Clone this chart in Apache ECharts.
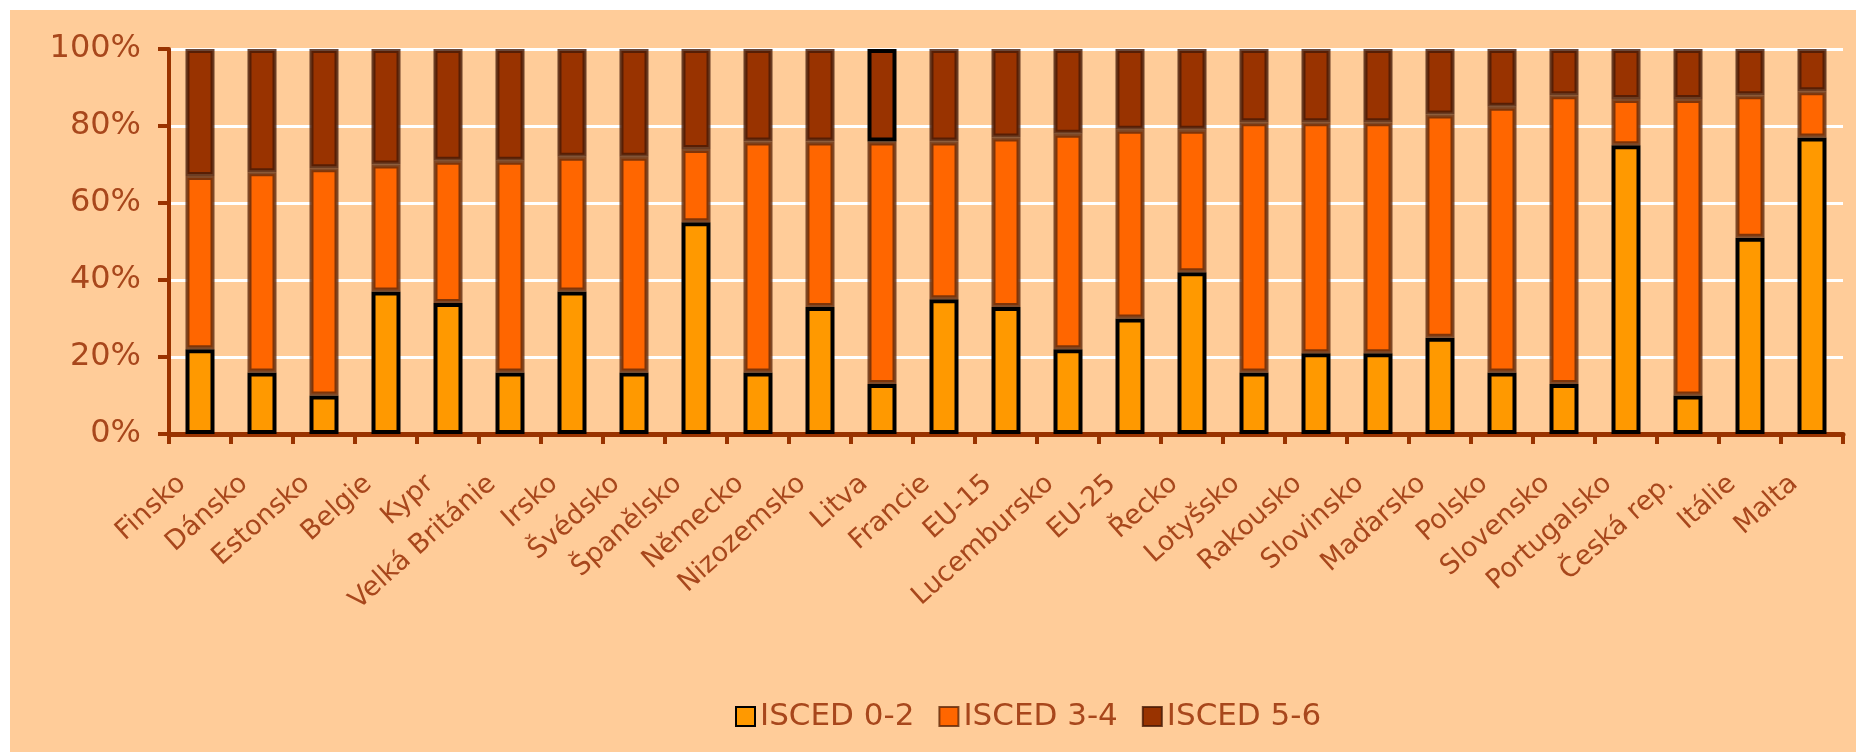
<!DOCTYPE html>
<html><head><meta charset="utf-8">
<script src="https://cdn.jsdelivr.net/npm/echarts@6/dist/echarts.min.js"></script>
<style>
html,body{margin:0;padding:0;background:#ffffff;width:1856px;height:752px;overflow:hidden}
#c{position:absolute;left:10px;top:10px;width:1846px;height:742px;}
</style>
</head><body><div id="c"></div>
<script>
const categories = ['Finsko','Dánsko','Estonsko','Belgie','Kypr','Velká Británie','Irsko','Švédsko','Španělsko','Německo','Nizozemsko','Litva','Francie','EU-15','Lucembursko','EU-25','Řecko','Lotyšsko','Rakousko','Slovinsko','Maďarsko','Polsko','Slovensko','Portugalsko','Česká rep.','Itálie','Malta'];
const isced02 = [22,16,10,37,34,16,37,16,55,16,33,13,35,33,22,30,42,16,21,21,25,16,13,75,10,51,77];
const isced34 = [45,52,59,33,37,55,35,56,19,60,43,63,41,44,56,49,37,65,60,60,58,69,75,12,77,37,12];
const isced56 = [33,32,31,30,29,29,28,28,26,24,24,24,24,23,22,21,21,19,19,19,17,15,12,13,13,12,11];
const legendNames = ['ISCED 0-2','ISCED 3-4','ISCED 5-6'];
const highlightCategory = 'Litva';

const txt = '#A8471C';
const font = "'DejaVu Sans', Verdana, sans-serif";
const chart = echarts.init(document.getElementById('c'));
chart.setOption({
  backgroundColor: '#FFCC99',
  animation: false,
  grid: {left: 159, right: 13, top: 39, bottom: 318, containLabel: false},
  legend: {
    data: legendNames, left: 720, top: 686, icon: 'rect',
    itemWidth: 19, itemHeight: 19, itemGap: 24,
    textStyle: {color: txt, fontSize: 31, fontFamily: font}
  },
  xAxis: {
    type: 'category', data: categories,
    axisLine: {lineStyle: {color: '#993300', width: 5}},
    axisTick: {show: true, length: 10, lineStyle: {color: '#993300', width: 4}, interval: 0},
    axisLabel: {interval: 0, rotate: 42, margin: 30, color: txt, fontSize: 27, fontFamily: font, padding: [0, 24, 0, 0]}
  },
  yAxis: {
    type: 'value', min: 0, max: 100, interval: 20,
    axisLine: {show: true, lineStyle: {color: '#993300', width: 4}},
    axisTick: {show: true, length: 11, lineStyle: {color: '#993300', width: 4}},
    splitLine: {lineStyle: {color: '#ffffff', width: 3}},
    axisLabel: {formatter: '{value}%', margin: 28, color: txt, fontSize: 32, fontFamily: font}
  },
  series: [
    {name: legendNames[0], type: 'bar', stack: 'a', barWidth: 29, data: isced02,
     itemStyle: {color: '#FF9900', borderColor: '#000000', borderWidth: 4}},
    {name: legendNames[1], type: 'bar', stack: 'a', barWidth: 29, data: isced34,
     itemStyle: {color: '#FF6600', borderColor: 'rgba(95,40,10,0.8)', borderWidth: 4}},
    {name: legendNames[2], type: 'bar', stack: 'a', barWidth: 29,
     data: isced56.map((v, i) => categories[i] === highlightCategory ? {value: v, itemStyle: {borderColor: '#000000'}} : v),
     itemStyle: {color: '#993300', borderColor: 'rgba(70,25,5,0.8)', borderWidth: 4}}
  ]
});
</script></body></html>
